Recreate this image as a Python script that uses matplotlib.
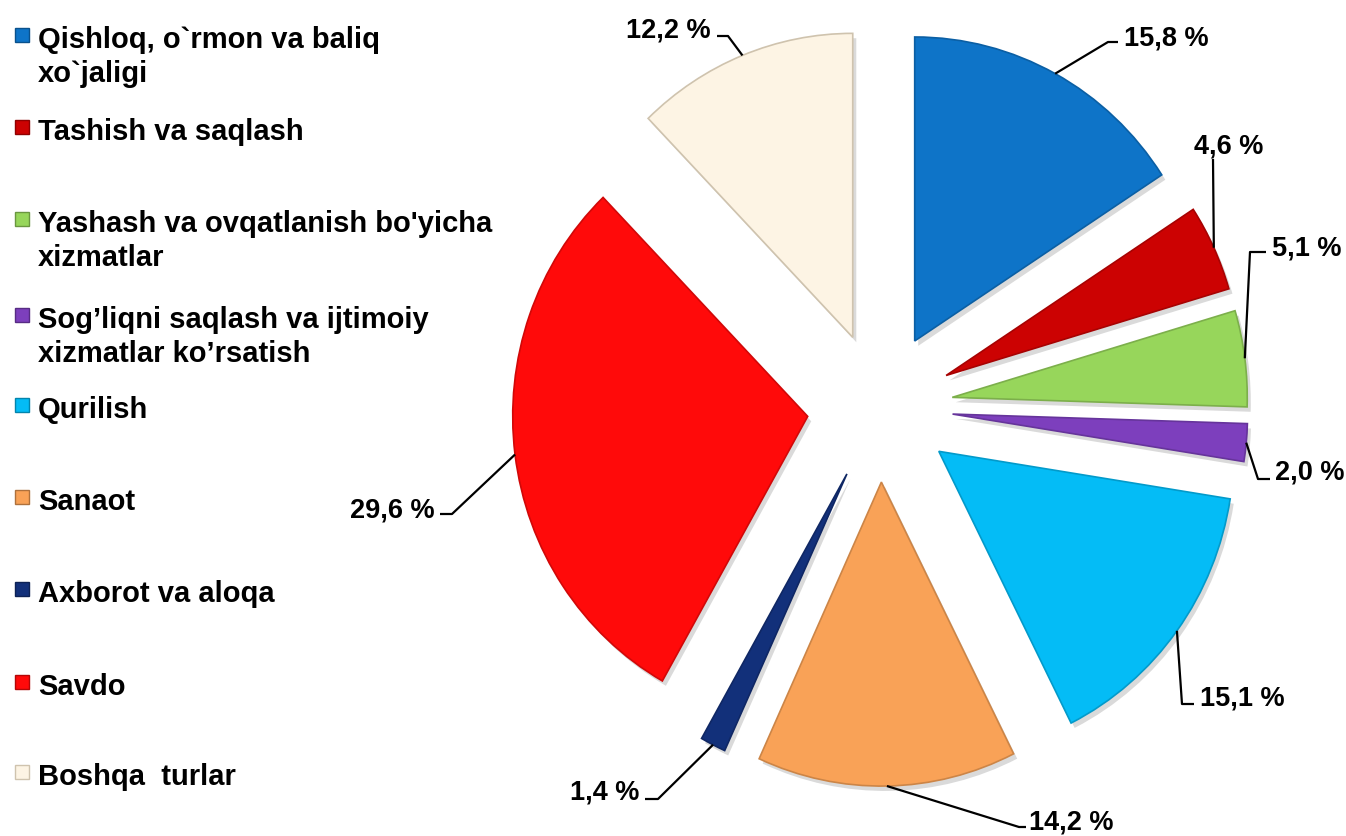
import numpy as np
import matplotlib.pyplot as plt
from matplotlib.patches import Wedge, Rectangle
from matplotlib.colors import to_rgb

categories = [
    "Qishloq, o`rmon va baliq\nxo`jaligi",
    "Tashish va saqlash",
    "Yashash va ovqatlanish bo'yicha\nxizmatlar",
    "Sog’liqni saqlash va ijtimoiy\nxizmatlar ko’rsatish",
    "Qurilish",
    "Sanaot",
    "Axborot va aloqa",
    "Savdo",
    "Boshqa  turlar",
]
shares = [15.8, 4.6, 5.1, 2.0, 15.1, 14.2, 1.4, 29.6, 12.2]
value_labels = ["15,8 %", "4,6 %", "5,1 %", "2,0 %", "15,1 %",
                "14,2 %", "1,4 %", "29,6 %", "12,2 %"]
colors = ["#0E74C8", "#CC0202", "#97D65B", "#7D3FBD", "#04BCF6",
          "#F9A257", "#12307A", "#FF0A0A", "#FDF4E4"]

W, H = 1346, 837
CX, CY = 880, 408
RX, RY = 295, 304   # pie radius in pixels (slightly taller than wide, like the source)


def px(x, y):
    # pixel position (from top-left) -> data coords of the pie axes
    return (x - CX) / RX, (CY - y) / RY


def darker(c, f=0.75):
    return tuple(v * f for v in to_rgb(c))


plt.rcParams['font.family'] = ['Liberation Sans', 'DejaVu Sans']
plt.rcParams['font.weight'] = 'bold'

fig = plt.figure(figsize=(W / 100, H / 100), dpi=100)
ax = fig.add_axes([0, 0, 1, 1])

wedges, _ = ax.pie(shares, colors=colors, startangle=90, counterclock=False,
                   explode=[0.247] * len(shares), radius=1.0,
                   wedgeprops=dict(linewidth=1.2))
for w, c in zip(wedges, colors):
    w.set_edgecolor(darker(c, 0.82) if c != "#FDF4E4" else "#CFC3AE")
    w.set_zorder(3)
    # soft drop shadow
    sh = Wedge((w.center[0] + 0.012, w.center[1] - 0.016), w.r, w.theta1, w.theta2,
               facecolor="#7a7a7a", alpha=0.28, linewidth=0, zorder=2)
    ax.add_patch(sh)

# leader line bends (pixels) and label baselines
leader_pts = [
    [(1108, 43), (1118, 43)],
    [(1213, 160)],
    [(1250, 253), (1266, 253)],
    [(1258, 480), (1270, 480)],
    [(1182, 705), (1194, 705)],
    [(1019, 828), (1026, 828)],
    [(658, 800), (645, 800)],
    [(452, 515), (440, 515)],
    [(728, 37), (717, 37)],
]
label_pos = [(1124, 45, 'left'), (1229, 153, 'center'), (1272, 255, 'left'),
             (1275, 480, 'left'), (1200, 705, 'left'), (1029, 829, 'left'),
             (639, 800, 'right'), (435, 517, 'right'), (711, 37, 'right')]

for w, txt, pts, (tx, ty, ha) in zip(wedges, value_labels, leader_pts, label_pos):
    mid = np.deg2rad((w.theta1 + w.theta2) / 2)
    sx = w.center[0] + w.r * np.cos(mid)
    sy = w.center[1] + w.r * np.sin(mid)
    xs = [sx] + [px(*p)[0] for p in pts]
    ys = [sy] + [px(*p)[1] for p in pts]
    ax.plot(xs, ys, color="black", lw=1.6, zorder=4, solid_capstyle='butt')
    lx, ly = px(tx, ty)
    ax.text(lx, ly, txt, ha=ha, va='baseline', fontsize=19.5,
            fontweight='bold', color='black', zorder=5)

ax.set_xlim(-CX / RX, (W - CX) / RX)
ax.set_ylim(-(H - CY) / RY, CY / RY)
ax.set_aspect('auto')
ax.axis('off')

# legend drawn by hand to keep the original uneven spacing
legend_baselines = [48, 140, 232, 328, 418, 510, 602, 695, 785]
line_gap = 34.5
for name, c, base in zip(categories, colors, legend_baselines):
    fig.add_artist(Rectangle((15 / W, 1 - (base - 5) / H), 14 / W, 14 / H,
                             transform=fig.transFigure, facecolor=c,
                             edgecolor=darker(c, 0.7) if c != "#FDF4E4" else "#CFC3AE",
                             linewidth=1))
    for i, line in enumerate(name.split("\n")):
        fig.text(38 / W, 1 - (base + i * line_gap) / H, line, ha='left',
                 va='baseline', fontsize=21, fontweight='bold', color='black')

fig.savefig("out.png", dpi=100)
